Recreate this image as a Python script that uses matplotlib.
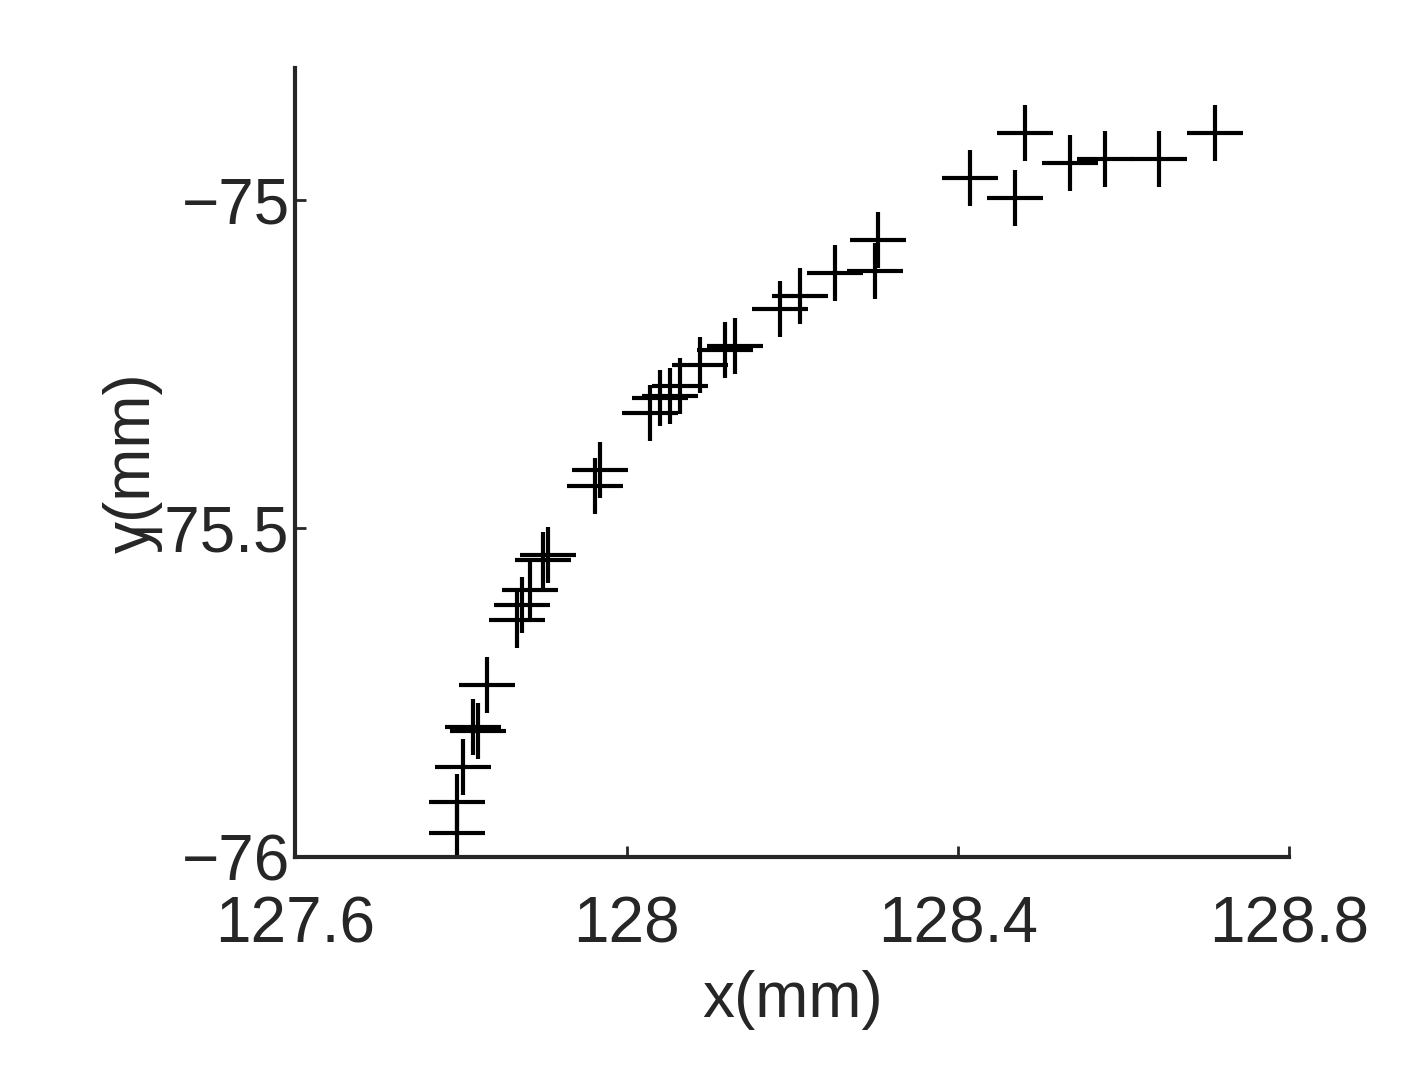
import matplotlib
matplotlib.use("Agg")
import matplotlib.pyplot as plt

plt.rcParams['font.family'] = ['Liberation Sans', 'DejaVu Sans']

x_mm = [127.795, 127.795, 127.803, 127.815, 127.821, 127.832, 127.868, 127.874, 127.883,
        127.899, 127.905, 127.962, 127.968, 128.028, 128.040, 128.052, 128.064, 128.088,
        128.119, 128.131, 128.185, 128.209, 128.251, 128.300, 128.303, 128.414, 128.469,
        128.481, 128.535, 128.577, 128.643, 128.710]
y_mm = [-75.964, -75.917, -75.863, -75.802, -75.808, -75.739, -75.640, -75.617, -75.594,
        -75.549, -75.541, -75.435, -75.412, -75.324, -75.302, -75.298, -75.283, -75.252,
        -75.229, -75.222, -75.166, -75.146, -75.111, -75.108, -75.062, -74.967, -74.997,
        -74.898, -74.944, -74.938, -74.938, -74.898]
xticks = [127.6, 128.0, 128.4, 128.8]
xticklabels = ["127.6", "128", "128.4", "128.8"]
yticks = [-76, -75.5, -75]
yticklabels = ["\u221276", "\u221275.5", "\u221275"]

fig = plt.figure(figsize=(14.06, 10.82), dpi=100)
ax = fig.add_axes([0.21, 0.208, 0.707, 0.729])
ax.plot(x_mm, y_mm, linestyle="none", marker="+", color="black",
        markersize=40, markeredgewidth=3)
ax.set_xlim(127.6, 128.8)
ax.set_ylim(-76, -74.8)
ax.set_xticks(xticks)
ax.set_xticklabels(xticklabels)
ax.set_yticks(yticks)
ax.set_yticklabels(yticklabels)
for s in ["top", "right"]:
    ax.spines[s].set_visible(False)
for s in ["left", "bottom"]:
    ax.spines[s].set_linewidth(3)
    ax.spines[s].set_color("#262626")
ax.tick_params(direction="in", length=8, width=2, labelsize=46, colors="#262626")
ax.tick_params(axis="x", pad=28)
ax.tick_params(axis="y", pad=4)
ax.set_xlabel("x(mm)", fontsize=46, color="#262626", labelpad=10)
ax.set_ylabel("y(mm)", fontsize=46, color="#262626", labelpad=-25)
fig.savefig("out.png", dpi=100)
